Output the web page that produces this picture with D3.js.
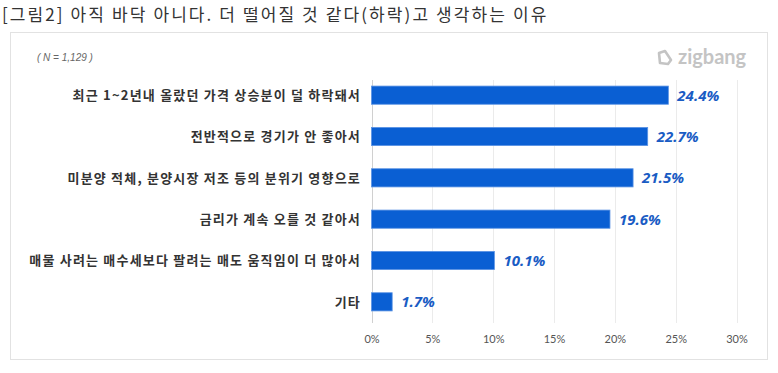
<!DOCTYPE html>
<html>
<head>
<meta charset="utf-8">
<script src="https://cdn.jsdelivr.net/npm/d3@7"></script>
<style>
  body { margin: 0; background: #fff; }
  svg { display: block; }
</style>
</head>
<body>
<div id="chart"></div>
<script>
var reasons = [
    "최근 1~2년내 올랐던 가격 상승분이 덜 하락돼서",
    "전반적으로 경기가 안 좋아서",
    "미분양 적체, 분양시장 저조 등의 분위기 영향으로",
    "금리가 계속 오를 것 같아서",
    "매물 사려는 매수세보다 팔려는 매도 움직임이 더 많아서",
    "기타"
];
var shares = [24.4, 22.7, 21.5, 19.6, 10.1, 1.7];
var xTicks = [0, 5, 10, 15, 20, 25, 30];

var width = 778, height = 373;
var krFont = "'Noto Sans CJK KR', 'Noto Sans', sans-serif";

var svg = d3.select("#chart").append("svg")
    .attr("width", width)
    .attr("height", height);

svg.append("text")
    .attr("x", 2)
    .attr("y", 21)
    .style("font-family", krFont)
    .style("font-size", "17px")
    .style("letter-spacing", "2.1px")
    .style("fill", "#333")
    .text("[그림2] 아직 바닥 아니다. 더 떨어질 것 같다(하락)고 생각하는 이유");

// frame
svg.append("rect")
    .attr("x", 10.5)
    .attr("y", 32.5)
    .attr("width", 757)
    .attr("height", 327)
    .style("fill", "#fff")
    .style("stroke", "#e2e2e2");

svg.append("text")
    .attr("x", 37)
    .attr("y", 61)
    .style("font-family", "'Liberation Sans', Arial, sans-serif")
    .style("font-style", "italic")
    .style("font-size", "10px")
    .style("fill", "#666")
    .text("( N = 1,129 )");

// zigbang mark
var logo = svg.append("g").attr("transform", "translate(657,58)");
logo.append("path")
    .attr("d", "M2,-5 L8,-7 L14,2 L11,6 L3,5 Z")
    .style("fill", "none")
    .style("stroke", "#c4c4c4")
    .style("stroke-width", 2.6)
    .style("stroke-linejoin", "round");
logo.append("text")
    .attr("x", 21)
    .attr("y", 6)
    .style("font-family", "Lato, 'Open Sans', sans-serif")
    .style("font-weight", "bold")
    .style("font-size", "20px")
    .style("fill", "#c4c4c4")
    .text("zigbang");

var x = d3.scaleLinear().domain([0, 30]).range([371.5, 736.5]);
var y = d3.scaleBand().domain(reasons).range([74.5, 322.5]).paddingInner(0.56).paddingOuter(0.28);

// gridlines
svg.append("g")
    .selectAll("line")
    .data(xTicks)
    .join("line")
    .attr("x1", function(d){ return Math.round(x(d)) + 0.5; })
    .attr("x2", function(d){ return Math.round(x(d)) + 0.5; })
    .attr("y1", 80)
    .attr("y2", 323)
    .style("stroke", function(d){ return d == 0 ? "#d0d0d0" : "#ebebeb"; });

var axis = svg.append("g")
    .attr("transform", "translate(0,323)")
    .call(d3.axisBottom(x).tickValues(xTicks).tickSize(0).tickPadding(12)
        .tickFormat(function(d){ return d + "%"; }));
axis.select(".domain").remove();
axis.selectAll("text")
    .style("font-family", "Lato, sans-serif")
    .style("font-size", "11px")
    .style("fill", "#555");

svg.append("g")
    .selectAll("rect")
    .data(shares)
    .join("rect")
    .attr("x", x(0))
    .attr("y", function(d, i){ return y(reasons[i]); })
    .attr("width", function(d){ return x(d) - x(0); })
    .attr("height", y.bandwidth())
    .style("fill", "#0a5fd3")
    .style("stroke", "#5b93e4")
    .style("stroke-width", 0.8);

svg.append("g")
    .selectAll("text")
    .data(shares)
    .join("text")
    .attr("x", function(d){ return x(d) + 9; })
    .attr("y", function(d, i){ return y(reasons[i]) + y.bandwidth() / 2; })
    .attr("dy", "0.36em")
    .style("font-family", "'Noto Sans', 'Open Sans', sans-serif")
    .style("font-weight", "bold")
    .style("font-style", "italic")
    .style("font-size", "15px")
    .style("fill", "#1a5cc4")
    .text(function(d){ return d.toFixed(1) + "%"; });

svg.append("g")
    .selectAll("text")
    .data(reasons)
    .join("text")
    .attr("x", 361)
    .attr("y", function(d){ return y(d) + y.bandwidth() / 2; })
    .attr("dy", "0.36em")
    .attr("text-anchor", "end")
    .style("font-family", krFont)
    .style("font-weight", "bold")
    .style("font-size", "13px")
    .style("letter-spacing", "1.2px")
    .style("fill", "#333")
    .text(function(d){ return d; });
</script>
</body>
</html>
